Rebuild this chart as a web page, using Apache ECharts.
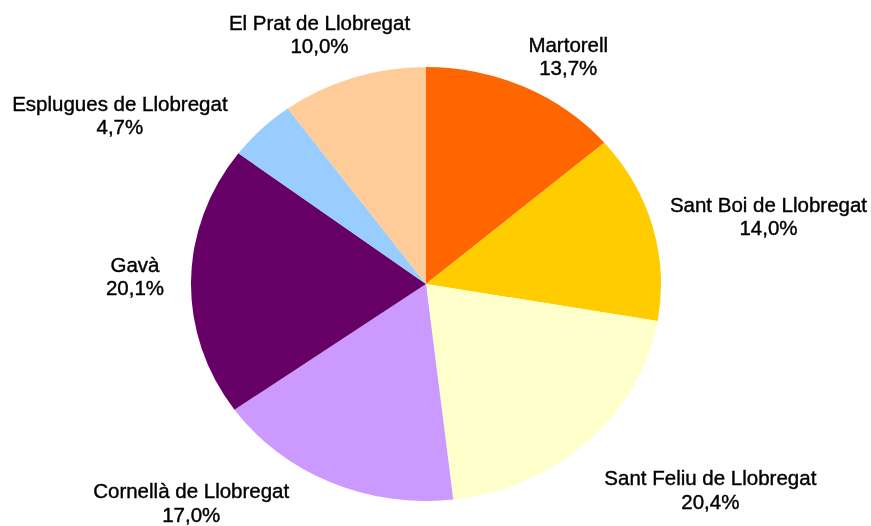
<!DOCTYPE html>
<html>
<head>
<meta charset="utf-8">
<script src="https://cdn.jsdelivr.net/npm/echarts@6/dist/echarts.min.js"></script>
<style>
  html, body { margin: 0; padding: 0; background: #fff; overflow: hidden; }
  #wrap { position: relative; width: 871px; height: 526px; }
  #pie, #labels { position: absolute; left: 0; top: 0; width: 871px; height: 526px; }
  /* the reference pie is a little wider than tall */
  #pie { transform-origin: 426px 284px; transform: scaleX(1.083); }
</style>
</head>
<body>
<div id="wrap">
  <div id="pie"></div>
  <div id="labels"></div>
</div>
<script>
// municipis, en ordre horari des de dalt
const municipis = [
  'Martorell',
  'Sant Boi de Llobregat',
  'Sant Feliu de Llobregat',
  'Cornellà de Llobregat',
  'Gavà',
  'Esplugues de Llobregat',
  'El Prat de Llobregat'
]
const percentatges = [13.7, 14.0, 20.4, 17.0, 20.1, 4.7, 10.0]
const colors = ['#FF6600', '#FFCC00', '#FFFFCC', '#CC99FF', '#660066', '#99CCFF', '#FFCC99']

// small shifts of each label from the default outside spot
const labelNudge = [[3, -21], [21, -6], [18, 43], [-40, 14], [-31, -3], [-35, -6], [59, -33]]

const center = [426, 284]
const radius = 217

// pie (slices only)
const pieChart = echarts.init(document.getElementById('pie'), null, { renderer: 'svg' })
pieChart.setOption({
  animation: false,
  series: [
    {
      type: 'pie',
      center: center,
      radius: radius,
      startAngle: 90,
      clockwise: true,
      silent: true,
      label: { show: false },
      labelLine: { show: false },
      itemStyle: { borderWidth: 0 },
      emphasis: { disabled: true },
      data: municipis.map((name, i) => ({
        name: name,
        value: percentatges[i],
        itemStyle: { color: colors[i] }
      }))
    }
  ]
})

// labels (same pie, invisible slices)
const labelChart = echarts.init(document.getElementById('labels'))
labelChart.setOption({
  animation: false,
  series: [
    {
      type: 'pie',
      center: center,
      radius: 226,
      startAngle: 90,
      clockwise: true,
      silent: true,
      avoidLabelOverlap: false,
      itemStyle: { color: 'rgba(0,0,0,0)', borderWidth: 0 },
      emphasis: { disabled: true },
      label: {
        show: true,
        position: 'outside',
        distanceToLabelLine: 5,
        fontFamily: 'Liberation Sans, Arial, sans-serif',
        fontSize: 20.5,
        lineHeight: 23.5,
        color: '#000',
        textBorderColor: '#000',
        textBorderWidth: 0.4,
        formatter: function (p) {
          return p.name + '\n' + p.value.toFixed(1).replace('.', ',') + '%'
        }
      },
      labelLine: { show: false, length: 0, length2: 0 },
      labelLayout: function (params) {
        const r = params.labelRect
        const n = labelNudge[params.dataIndex]
        return {
          x: r.x + r.width / 2 + n[0],
          y: r.y + r.height / 2 + n[1],
          align: 'center',
          verticalAlign: 'middle'
        }
      },
      data: municipis.map((name, i) => ({ name: name, value: percentatges[i] }))
    }
  ]
})
</script>
</body>
</html>
